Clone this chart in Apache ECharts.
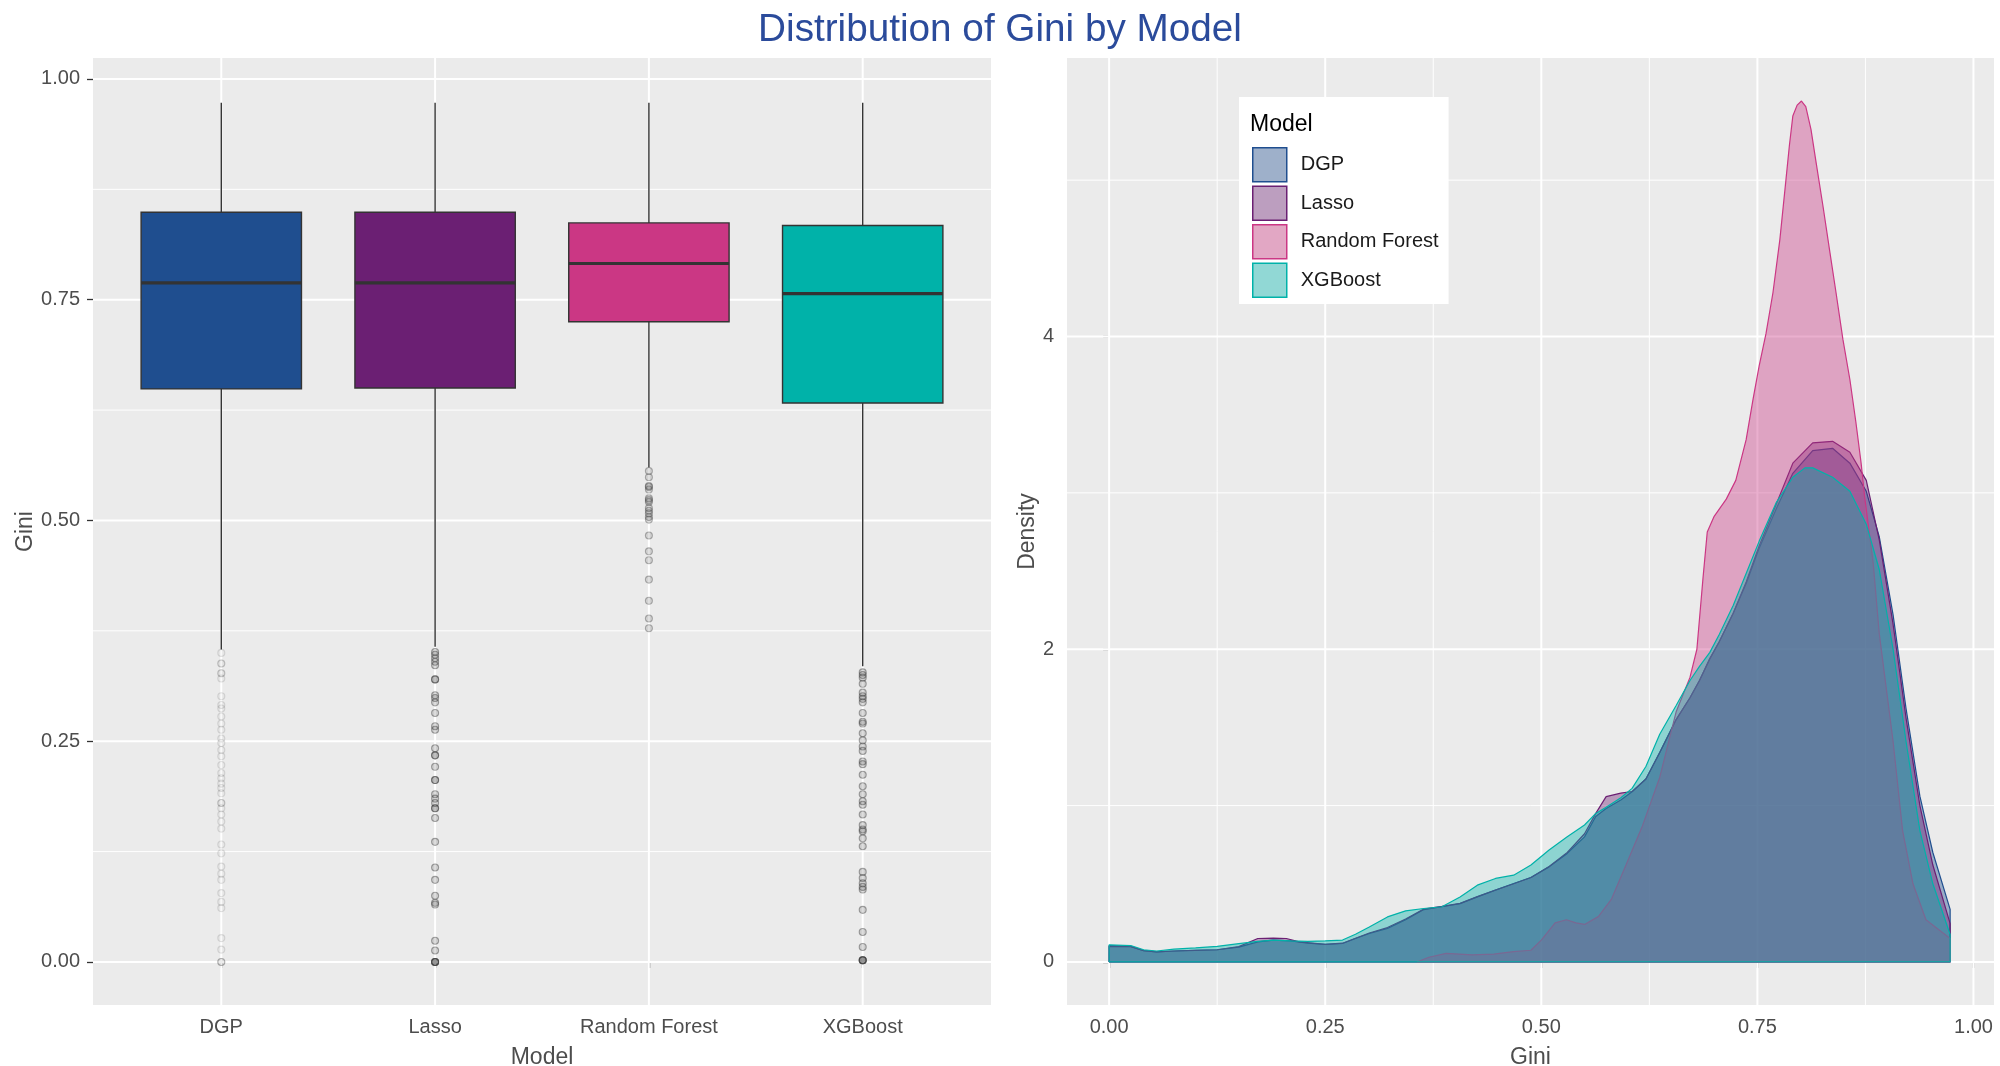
<!DOCTYPE html>
<html>
<head>
<meta charset="utf-8">
<script src="https://cdn.jsdelivr.net/npm/echarts@6/dist/echarts.min.js"></script>
<style>
  html, body { margin: 0; padding: 0; background: #ffffff; }
  #chart { width: 2000px; height: 1066px; }
</style>
</head>
<body>
<div id="chart"></div>
<script>
// ---- data ----------------------------------------------------------------
const models = ['DGP', 'Lasso', 'Random Forest', 'XGBoost'];

// [lower whisker, Q1, median, Q3, upper whisker] of Gini per model
const dgpBox   = [0.354, 0.649, 0.769, 0.849, 0.973];
const lassoBox = [0.357, 0.650, 0.769, 0.849, 0.973];
const rfBox    = [0.560, 0.725, 0.791, 0.837, 0.973];
const xgbBox   = [0.335, 0.633, 0.757, 0.834, 0.973];

// Outlying Gini values below the lower whisker
const dgpOutliers = [0.350, 0.338, 0.338, 0.327, 0.327, 0.321, 0.301, 0.291, 0.287, 0.278, 0.270, 0.263,
  0.253, 0.248, 0.240, 0.233, 0.223, 0.214, 0.208, 0.202, 0.197, 0.191, 0.180, 0.180, 0.174, 0.167,
  0.159, 0.151, 0.133, 0.123, 0.108, 0.100, 0.093, 0.078, 0.068, 0.061, 0.027, 0.014, 0.000, 0.000, 0.000];
const lassoOutliers = [0.351, 0.348, 0.344, 0.340, 0.336, 0.320, 0.320, 0.302, 0.299, 0.294, 0.282, 0.267,
  0.263, 0.242, 0.234, 0.234, 0.221, 0.206, 0.206, 0.190, 0.185, 0.180, 0.174, 0.174, 0.163, 0.136,
  0.107, 0.093, 0.075, 0.067, 0.065, 0.024, 0.013, 0.000, 0.000, 0.000, 0.000];
const rfOutliers = [0.556, 0.549, 0.539, 0.538, 0.535, 0.525, 0.523, 0.521, 0.514, 0.511, 0.508, 0.504,
  0.501, 0.483, 0.465, 0.455, 0.433, 0.409, 0.389, 0.378];
const xgbOutliers = [0.328, 0.325, 0.322, 0.315, 0.305, 0.301, 0.298, 0.294, 0.282, 0.272, 0.270, 0.259,
  0.251, 0.244, 0.239, 0.227, 0.224, 0.212, 0.199, 0.190, 0.182, 0.178, 0.167, 0.155, 0.150, 0.148,
  0.140, 0.131, 0.102, 0.095, 0.089, 0.085, 0.082, 0.059, 0.034, 0.017, 0.002, 0.002, 0.002, 0.002];

// Kernel density of Gini per model: [gini, density]
const dgpDensity = [[0.000,0.105],[0.025,0.100],[0.040,0.072],[0.055,0.064],[0.075,0.070],[0.100,0.075],
  [0.125,0.078],[0.150,0.095],[0.172,0.128],[0.190,0.140],[0.210,0.135],[0.230,0.120],[0.250,0.113],
  [0.270,0.118],[0.285,0.150],[0.301,0.182],[0.322,0.214],[0.343,0.270],[0.364,0.335],[0.385,0.353],
  [0.406,0.373],[0.426,0.416],[0.447,0.459],[0.468,0.502],[0.488,0.540],[0.509,0.608],[0.530,0.694],
  [0.550,0.800],[0.563,0.930],[0.575,0.982],[0.592,1.036],[0.605,1.088],[0.621,1.170],[0.637,1.340],
  [0.656,1.550],[0.672,1.690],[0.683,1.800],[0.695,1.940],[0.706,2.050],[0.722,2.230],[0.737,2.420],
  [0.752,2.645],[0.772,2.900],[0.791,3.125],[0.814,3.270],[0.837,3.285],[0.857,3.190],[0.876,3.010],
  [0.891,2.720],[0.907,2.220],[0.922,1.620],[0.938,1.060],[0.953,0.700],[0.973,0.336]];
const lassoDensity = [[0.000,0.100],[0.025,0.098],[0.040,0.072],[0.055,0.064],[0.075,0.070],[0.100,0.074],
  [0.125,0.078],[0.150,0.098],[0.172,0.150],[0.190,0.152],[0.205,0.150],[0.220,0.128],[0.250,0.113],
  [0.270,0.120],[0.285,0.152],[0.301,0.185],[0.322,0.220],[0.343,0.275],[0.364,0.338],[0.385,0.355],
  [0.406,0.375],[0.426,0.418],[0.447,0.460],[0.468,0.500],[0.488,0.540],[0.509,0.610],[0.530,0.700],
  [0.550,0.820],[0.563,0.950],[0.575,1.057],[0.592,1.080],[0.605,1.090],[0.621,1.170],[0.637,1.340],
  [0.656,1.550],[0.672,1.690],[0.683,1.800],[0.695,1.940],[0.706,2.050],[0.722,2.230],[0.737,2.430],
  [0.752,2.660],[0.772,2.930],[0.791,3.190],[0.814,3.320],[0.837,3.330],[0.857,3.260],[0.876,3.080],
  [0.891,2.700],[0.907,2.160],[0.922,1.560],[0.938,1.000],[0.953,0.620],[0.973,0.245]];
const rfDensity = [[0.356,0.000],[0.370,0.030],[0.390,0.055],[0.420,0.045],[0.445,0.050],[0.468,0.066],
  [0.488,0.075],[0.500,0.140],[0.516,0.250],[0.529,0.270],[0.540,0.250],[0.550,0.240],[0.566,0.290],
  [0.581,0.400],[0.598,0.620],[0.617,0.870],[0.637,1.180],[0.656,1.600],[0.672,1.820],[0.680,2.000],
  [0.687,2.450],[0.692,2.750],[0.700,2.850],[0.714,2.960],[0.725,3.080],[0.737,3.340],[0.745,3.600],
  [0.752,3.810],[0.760,4.020],[0.768,4.280],[0.776,4.620],[0.783,5.000],[0.787,5.220],[0.791,5.410],
  [0.796,5.480],[0.801,5.506],[0.806,5.470],[0.812,5.325],[0.818,5.110],[0.826,4.830],[0.834,4.535],
  [0.841,4.280],[0.849,3.980],[0.857,3.725],[0.864,3.450],[0.870,3.190],[0.874,2.980],[0.884,2.550],
  [0.891,2.100],[0.907,1.410],[0.918,0.840],[0.930,0.500],[0.945,0.270],[0.973,0.150]];
const xgbDensity = [[0.000,0.110],[0.025,0.105],[0.040,0.078],[0.055,0.070],[0.075,0.082],[0.100,0.090],
  [0.125,0.100],[0.150,0.117],[0.172,0.132],[0.190,0.140],[0.210,0.135],[0.230,0.132],[0.250,0.135],
  [0.270,0.140],[0.285,0.177],[0.301,0.224],[0.322,0.288],[0.343,0.327],[0.364,0.342],[0.385,0.353],
  [0.406,0.416],[0.426,0.491],[0.447,0.534],[0.468,0.555],[0.488,0.620],[0.509,0.716],[0.530,0.801],
  [0.550,0.876],[0.563,0.950],[0.575,0.990],[0.592,1.050],[0.605,1.110],[0.621,1.250],[0.637,1.456],
  [0.656,1.640],[0.672,1.800],[0.683,1.890],[0.695,1.980],[0.706,2.096],[0.722,2.280],[0.737,2.485],
  [0.752,2.690],[0.772,2.940],[0.791,3.100],[0.805,3.160],[0.814,3.160],[0.837,3.100],[0.857,3.010],
  [0.876,2.800],[0.891,2.510],[0.907,2.000],[0.922,1.410],[0.938,0.840],[0.953,0.500],[0.973,0.176]];

// Axis breaks
const giniMajorTicks = [0, 0.25, 0.5, 0.75, 1];
const giniMinorTicks = [0.125, 0.375, 0.625, 0.875];
const densityMajorTicks = [0, 2, 4];
const densityMinorTicks = [1, 3, 5];
const modelPositions = [1, 2, 3, 4];

// ---- styling -------------------------------------------------------------
const boxes = [dgpBox, lassoBox, rfBox, xgbBox];
const outliers = [dgpOutliers, lassoOutliers, rfOutliers, xgbOutliers];
const densities = [dgpDensity, lassoDensity, rfDensity, xgbDensity];
const modelColors = ['#1F4E8F', '#6B1F73', '#CB3784', '#00B2A9'];
const keyFills = ['#9EB0CA', '#BC9EBF', '#E2A7C4', '#91D8D5'];
const outlierFill = ['rgba(60,60,60,0.04)', 'rgba(60,60,60,0.22)', 'rgba(60,60,60,0.2)', 'rgba(60,60,60,0.22)'];
const outlierEdge = ['rgba(60,60,60,0.18)', 'rgba(60,60,60,0.55)', 'rgba(60,60,60,0.45)', 'rgba(60,60,60,0.55)'];

const FONT = '"Liberation Sans", Arial, sans-serif';
const PANEL_BG = '#EBEBEB';
const LABEL_COLOR = '#4D4D4D';
const TICK_COLOR = '#333333';

// ggplot-style 5% expansion of the data range
function expand(lo, hi) { const d = (hi - lo) * 0.05; return [lo - d, hi + d]; }
const giniRange = expand(0, 0.975);
const densityRange = expand(0, 5.506);
const modelRange = [0.4, 4.6];

const chart = echarts.init(document.getElementById('chart'), null, { renderer: 'canvas' });

// white panel grid lines drawn beneath the marks
function gridLines(gridIndex, xMin, yMin, vMajor, vMinor, hMajor, hMinor) {
  const data = [];
  hMinor.forEach(v => data.push([0, v, 0]));
  vMinor.forEach(v => data.push([1, v, 0]));
  hMajor.forEach(v => data.push([0, v, 1]));
  vMajor.forEach(v => data.push([1, v, 1]));
  return {
    type: 'custom', xAxisIndex: gridIndex, yAxisIndex: gridIndex, silent: true, z: 1,
    data: data,
    renderItem: function (params, api) {
      const cs = params.coordSys;
      const dir = api.value(0), v = api.value(1), major = api.value(2);
      const width = major ? 2 : 1;
      let shape;
      if (dir === 0) {
        const y = api.coord([xMin, v])[1];
        shape = { x1: cs.x, y1: y, x2: cs.x + cs.width, y2: y };
      } else {
        const x = api.coord([v, yMin])[0];
        shape = { x1: x, y1: cs.y, x2: x, y2: cs.y + cs.height };
      }
      return { type: 'line', shape: shape, style: { stroke: '#FFFFFF', lineWidth: width } };
    }
  };
}

function outline(points) {
  const x0 = points[0][0], x1 = points[points.length - 1][0];
  return [[x0, 0]].concat(points, [[x1, 0], [x0, 0]]);
}

const axisCommon = {
  axisLine: { show: false },
  axisTick: { show: true, length: 6, lineStyle: { color: TICK_COLOR, width: 1.3 } },
  splitLine: { show: false },
  nameTextStyle: { fontFamily: FONT, fontSize: 23, color: LABEL_COLOR },
  nameLocation: 'middle'
};
function labelStyle(extra) {
  return Object.assign({ fontFamily: FONT, fontSize: 20, color: LABEL_COLOR, margin: 12 }, extra);
}

const series = [
  gridLines(0, modelRange[0], giniRange[0], modelPositions, [], giniMajorTicks, giniMinorTicks),
  gridLines(1, giniRange[0], densityRange[0], giniMajorTicks, giniMinorTicks, densityMajorTicks, densityMinorTicks),
  {
    type: 'custom', name: 'Gini boxes', xAxisIndex: 0, yAxisIndex: 0, z: 3,
    data: boxes.map((b, i) => [modelPositions[i]].concat(b)),
    renderItem: function (params, api) {
      const x = api.value(0);
      const lo = api.coord([x, api.value(1)]);
      const q1 = api.coord([x, api.value(2)]);
      const med = api.coord([x, api.value(3)]);
      const q3 = api.coord([x, api.value(4)]);
      const hi = api.coord([x, api.value(5)]);
      const half = api.size([0.75, 0])[0] / 2;
      const stroke = { stroke: TICK_COLOR, lineWidth: 1.4 };
      return {
        type: 'group',
        children: [
          { type: 'line', shape: { x1: hi[0], y1: hi[1], x2: q3[0], y2: q3[1] }, style: stroke },
          { type: 'line', shape: { x1: q1[0], y1: q1[1], x2: lo[0], y2: lo[1] }, style: stroke },
          { type: 'rect', shape: { x: q3[0] - half, y: q3[1], width: half * 2, height: q1[1] - q3[1] },
            style: { fill: modelColors[params.dataIndex], stroke: TICK_COLOR, lineWidth: 1.4 } },
          { type: 'line', shape: { x1: med[0] - half, y1: med[1], x2: med[0] + half, y2: med[1] },
            style: { stroke: TICK_COLOR, lineWidth: 3.2 } }
        ]
      };
    }
  }
];

outliers.forEach((vals, i) => {
  series.push({
    type: 'scatter', name: models[i] + ' outliers', xAxisIndex: 0, yAxisIndex: 0, z: 4,
    symbol: 'circle', symbolSize: 7,
    itemStyle: { color: outlierFill[i], borderColor: outlierEdge[i], borderWidth: 1.1 },
    data: vals.map(v => [modelPositions[i], v])
  });
});

// each density sits on its own layer so later models cover earlier outlines
densities.forEach((pts, i) => {
  series.push({
    type: 'line', name: models[i], xAxisIndex: 1, yAxisIndex: 1, z: 3 + i,
    showSymbol: false, symbol: 'none',
    lineStyle: { color: modelColors[i], width: 1.2 },
    itemStyle: { color: modelColors[i] },
    areaStyle: { color: modelColors[i], opacity: 0.4, origin: 0 },
    data: outline(pts)
  });
});

const option = {
  animation: false,
  backgroundColor: '#FFFFFF',
  title: {
    text: 'Distribution of Gini by Model',
    left: 'center', top: 11, padding: 0,
    textStyle: { fontFamily: FONT, fontSize: 38.7, fontWeight: 'normal', color: '#2B4B9B' }
  },
  grid: [
    { left: 93, top: 58, width: 898, height: 947, show: true, backgroundColor: PANEL_BG, borderWidth: 0,
      containLabel: false, outerBoundsMode: 'none' },
    { left: 1067, top: 58, width: 927, height: 947, show: true, backgroundColor: PANEL_BG, borderWidth: 0,
      containLabel: false, outerBoundsMode: 'none' }
  ],
  xAxis: [
    Object.assign({}, axisCommon, {
      type: 'value', gridIndex: 0, min: modelRange[0], max: modelRange[1],
      name: 'Model', nameGap: 41,
      axisTick: Object.assign({}, axisCommon.axisTick, { customValues: modelPositions }),
      axisLabel: labelStyle({ customValues: modelPositions, formatter: v => models[Math.round(v) - 1] })
    }),
    Object.assign({}, axisCommon, {
      type: 'value', gridIndex: 1, min: giniRange[0], max: giniRange[1],
      name: 'Gini', nameGap: 41,
      axisTick: Object.assign({}, axisCommon.axisTick, { customValues: giniMajorTicks }),
      axisLabel: labelStyle({ customValues: giniMajorTicks, formatter: v => v.toFixed(2) })
    })
  ],
  yAxis: [
    Object.assign({}, axisCommon, {
      type: 'value', gridIndex: 0, min: giniRange[0], max: giniRange[1],
      name: 'Gini', nameGap: 54, nameRotate: 90,
      axisTick: Object.assign({}, axisCommon.axisTick, { customValues: giniMajorTicks }),
      axisLabel: labelStyle({ customValues: giniMajorTicks, formatter: v => v.toFixed(2), margin: 13 })
    }),
    Object.assign({}, axisCommon, {
      type: 'value', gridIndex: 1, min: densityRange[0], max: densityRange[1],
      name: 'Density', nameGap: 28, nameRotate: 90,
      axisTick: Object.assign({}, axisCommon.axisTick, { customValues: densityMajorTicks }),
      axisLabel: labelStyle({ customValues: densityMajorTicks, formatter: v => String(Math.round(v)), margin: 13 })
    })
  ],
  legend: {
    orient: 'vertical', left: 1239, top: 97,
    itemWidth: 34, itemHeight: 34, itemGap: 3,
    backgroundColor: '#FFFFFF', borderWidth: 0,
    padding: [50, 10, 6, 13],
    selectedMode: false,
    textStyle: { fontFamily: FONT, fontSize: 20, color: '#1A1A1A', padding: [0, 0, 0, 9] },
    data: models.map((m, i) => ({
      name: m, icon: 'rect',
      itemStyle: { color: keyFills[i], borderColor: modelColors[i], borderWidth: 1.5, opacity: 1 }
    }))
  },
  graphic: [{
    type: 'text', x: 1250, y: 125, z: 100,
    style: { text: 'Model', font: '23px ' + FONT, fill: '#000000', verticalAlign: 'middle' }
  }],
  series: series
};

chart.setOption(option);
</script>
</body>
</html>
